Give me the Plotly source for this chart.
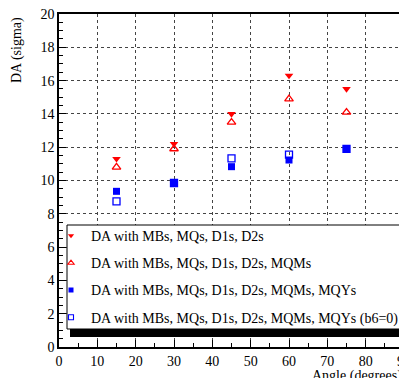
import plotly.graph_objects as go

angles = [15, 30, 45, 60, 75]
da_base = [11.3, 12.2, 14.0, 16.3, 15.5]
da_mqm = [10.8, 11.9, 13.5, 14.9, 14.1]
da_mqy = [9.35, 9.83, 10.83, 11.23, 11.87]
da_mqy_b6 = [8.75, 9.85, 11.33, 11.55, 11.9]

names = [
    "DA with MBs, MQs, D1s, D2s",
    "DA with MBs, MQs, D1s, D2s, MQMs",
    "DA with MBs, MQs, D1s, D2s, MQMs, MQYs",
    "DA with MBs, MQs, D1s, D2s, MQMs, MQYs (b6=0)",
]
series = [da_base, da_mqm, da_mqy, da_mqy_b6]
symbols = ["triangle-down", "triangle-up-open", "square", "square-open"]
colors = ["#ff0000", "#ff0000", "#0000ff", "#0000ff"]
sizes = [7.5, 7.5, 7, 7]
leg_sizes = [5.5, 5.5, 5, 5]

fig = go.Figure()
for i in range(4):
    lw = 1.3 if "open" in symbols[i] else 0
    fig.add_trace(go.Scatter(x=angles, y=series[i], mode="markers", name=names[i],
                             marker=dict(symbol=symbols[i], color=colors[i], size=sizes[i],
                                         line=dict(width=lw, color=colors[i])),
                             showlegend=False))
for i in range(4):
    lw = 1.1 if "open" in symbols[i] else 0
    fig.add_trace(go.Scatter(x=[None], y=[None], mode="markers", name=names[i],
                             marker=dict(symbol=symbols[i], color=colors[i], size=leg_sizes[i],
                                         line=dict(width=lw, color=colors[i])),
                             legendgroup=f"g{i}", showlegend=True))

font = "Liberation Serif, Times New Roman, serif"

# page pixel -> paper coords (figure is offset 8px by the page body margin)
def px_x(p):
    return (p - 59) / 345.0

def px_y(p):
    return (347 - p) / 333.0

fig.add_shape(type="rect", xref="paper", yref="paper",
              x0=px_x(70), x1=px_x(410), y0=px_y(337), y1=px_y(326),
              fillcolor="black", line=dict(width=0), layer="above")
fig.add_shape(type="rect", xref="paper", yref="paper",
              x0=px_x(67), x1=px_x(400), y0=px_y(329), y1=px_y(225),
              fillcolor="white", line=dict(color="black", width=1), layer="above")

axis_common = dict(
    showgrid=True, gridcolor="#444444", griddash="dot", gridwidth=1,
    showline=True, linecolor="black", linewidth=1.5, mirror=True,
    ticks="inside", ticklen=7, tickcolor="black", ticklabeloverflow="allow",
    zeroline=False, tickfont=dict(family=font, size=14),
)

fig.update_layout(
    width=399, height=370,
    margin=dict(l=51, r=3, t=6, b=31, autoexpand=False),
    paper_bgcolor="white", plot_bgcolor="white",
    font=dict(family=font, size=14, color="black"),
    showlegend=True,
    legend=dict(x=px_x(51), y=px_y(220), xanchor="left", yanchor="top",
                bgcolor="rgba(0,0,0,0)", borderwidth=0,
                font=dict(family=font, size=14), tracegroupgap=6,
                itemwidth=30),
    xaxis=dict(range=[0, 90], tickmode="linear", tick0=0, dtick=10,
               minor=dict(dtick=5, ticks="inside", ticklen=4, tickcolor="black", showgrid=False),
               **axis_common),
    yaxis=dict(range=[0, 20], tickmode="linear", tick0=0, dtick=2,
               minor=dict(dtick=0.5, ticks="inside", ticklen=4, tickcolor="black", showgrid=False),
               **axis_common),
    annotations=[
        dict(text="Angle (degrees)", xref="paper", yref="paper", x=1.0, y=px_y(366),
             xanchor="right", yanchor="top", showarrow=False,
             font=dict(family=font, size=14)),
        dict(text="DA (sigma)", xref="paper", yref="paper", x=px_x(17), y=px_y(15),
             xanchor="center", yanchor="top", textangle=-90, showarrow=False,
             font=dict(family=font, size=14)),
    ],
)

fig.write_html("out.html")
